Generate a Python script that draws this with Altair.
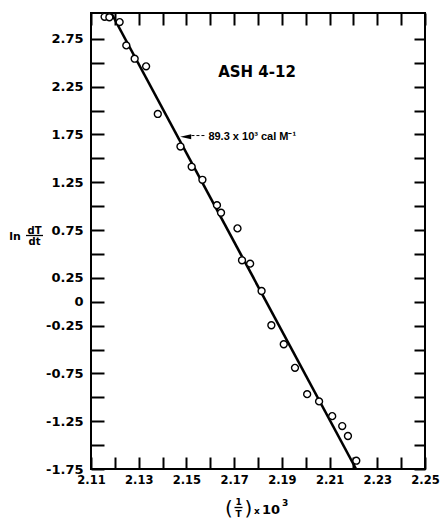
import altair as alt
import pandas as pd

# ---- data ----
inv_T = [2.1157, 2.1177, 2.1220, 2.1248, 2.1283, 2.1331, 2.1380, 2.1475, 2.1522,
         2.1567, 2.1628, 2.1645, 2.1714, 2.1733, 2.1767, 2.1815, 2.1856, 2.1908,
         2.1955, 2.2006, 2.2056, 2.2111, 2.2153, 2.2177, 2.2212]
ln_rate = [2.980, 2.975, 2.925, 2.681, 2.542, 2.462, 1.964, 1.623, 1.411,
           1.275, 1.010, 0.931, 0.767, 0.433, 0.398, 0.112, -0.246, -0.445,
           -0.692, -0.967, -1.043, -1.197, -1.301, -1.405, -1.663]
fit_x = [2.1185, 2.2211]
fit_y = [3.02, -1.75]
x_ticks = [2.11, 2.12, 2.13, 2.14, 2.15, 2.16, 2.17, 2.18, 2.19, 2.20, 2.21,
           2.22, 2.23, 2.24, 2.25]
y_ticks = [-1.75, -1.5, -1.25, -1.0, -0.75, -0.5, -0.25, 0, 0.25, 0.5, 0.75,
           1.0, 1.25, 1.5, 1.75, 2.0, 2.25, 2.5, 2.75]
sample_label = ["ASH 4-12"]
sample_x = [2.1796]
sample_y = [2.406]
energy_label = ["89.3 x 10\u00b3 cal M\u207b\u00b9"]
energy_x = [2.1592]
energy_y = [1.726]
leader_x = [2.1521, 2.1584]
leader_y = [1.738]
arrow_x = [2.1497]
arrow_y = [1.726]

W, H = 334, 456
FONT = "DejaVu Sans"

xs = alt.Scale(domain=[2.11, 2.25], nice=False, zero=False)
ys = alt.Scale(domain=[-1.75, 3.02], nice=False, zero=False)

pts = pd.DataFrame({"x": inv_T, "y": ln_rate})
fit = pd.DataFrame({"x": [fit_x[0]], "x2": [fit_x[1]], "y": [fit_y[0]], "y2": [fit_y[1]]})
one = pd.DataFrame({"k": [0]})

x_label_expr = "round(datum.value*100) % 2 == 1 ? format(datum.value, '.2f') : ''"
y_label_expr = ("datum.value == 0 ? '0' : (abs(round(datum.value*4)) % 2 == 1 ? "
                "(datum.value < 0 ? '-' : '') + format(abs(datum.value), '.2f') : '')")

ax_bottom = alt.Axis(orient="bottom", values=x_ticks, offset=-12, tickSize=12, tickWidth=2,
                     tickColor="black", domain=False, grid=False, labelExpr=x_label_expr,
                     labelFont=FONT, labelFontWeight="bold", labelFontSize=11.5,
                     labelColor="black", labelPadding=5, labelFlush=False,
                     labelOverlap=False, title=None)
ax_left = alt.Axis(orient="left", values=y_ticks, offset=-13, tickSize=13, tickWidth=2,
                   tickColor="black", domain=False, grid=False, labelExpr=y_label_expr,
                   labelFont=FONT, labelFontWeight="bold", labelFontSize=13,
                   labelColor="black", labelPadding=8, labelFlush=False,
                   labelOverlap=False, title=None)
ax_top = alt.Axis(orient="top", values=x_ticks, offset=-12, tickSize=12, tickWidth=2,
                  tickColor="black", domain=False, grid=False, labels=False, title=None)
ax_right = alt.Axis(orient="right", values=y_ticks, offset=-11, tickSize=11, tickWidth=2,
                    tickColor="black", domain=False, grid=False, labels=False, title=None)

fit_line = alt.Chart(fit).mark_rule(color="black", strokeWidth=2.6).encode(
    x=alt.X("x:Q", scale=xs, axis=ax_bottom),
    x2="x2:Q",
    y=alt.Y("y:Q", scale=ys, axis=ax_left),
    y2="y2:Q",
)

points = alt.Chart(pts).mark_point(shape="circle", filled=True, fill="white", stroke="black",
                                   strokeWidth=1.4, size=48, opacity=1).encode(
    x=alt.X("x:Q", scale=xs, axis=ax_top),
    y=alt.Y("y:Q", scale=ys, axis=ax_right),
)

def data_text(xv, yv, label, size, align, font):
    df = pd.DataFrame({"x": xv, "y": yv, "t": label})
    return alt.Chart(df).mark_text(font=font, fontWeight="bold", fontSize=size, align=align,
                                   baseline="middle", color="black").encode(
        x=alt.X("x:Q", scale=xs, axis=None),
        y=alt.Y("y:Q", scale=ys, axis=None),
        text="t:N",
    )

sample_txt = data_text(sample_x, sample_y, sample_label, 15, "center", FONT)
energy_txt = data_text(energy_x, energy_y, energy_label, 11, "left", "Liberation Sans")

leader = alt.Chart(pd.DataFrame({"x": [leader_x[0]], "x2": [leader_x[1]], "y": leader_y})).mark_rule(
    color="black", strokeWidth=1, strokeDash=[3, 2]).encode(
    x=alt.X("x:Q", scale=xs, axis=None), x2="x2:Q",
    y=alt.Y("y:Q", scale=ys, axis=None),
)
arrow = alt.Chart(pd.DataFrame({"x": arrow_x, "y": arrow_y})).mark_point(
    shape="M-1,0L1,-0.45L1,0.45Z", filled=True, color="black", size=121, opacity=1).encode(
    x=alt.X("x:Q", scale=xs, axis=None),
    y=alt.Y("y:Q", scale=ys, axis=None),
)

def title_text(txt, px, py, size, weight="bold", align="center"):
    return alt.Chart(one).mark_text(text=txt, font=FONT, fontWeight=weight, fontSize=size,
                                    align=align, baseline="middle", color="black").encode(
        x=alt.value(px), y=alt.value(py))

def title_bar(px1, px2, py):
    return alt.Chart(one).mark_rule(color="black", strokeWidth=1.3).encode(
        x=alt.value(px1), x2=alt.value(px2), y=alt.value(py))

y_title = [
    title_text("ln", -76, 224, 11),
    title_text("dT", -56.5, 217.5, 10),
    title_bar(-65, -48, 222.5),
    title_text("dt", -56.5, 228.5, 10),
]
x_title = [
    title_text("(", 138, 496, 20, weight="normal"),
    title_text("1", 147.5, 489, 9),
    title_bar(143.5, 151.5, 494.5),
    title_text("T", 147.5, 500.5, 9),
    title_text(")", 157.5, 496, 20, weight="normal"),
    title_text("x", 163, 498, 9, align="left"),
    title_text("10", 171, 497, 13, align="left"),
    title_text("3", 191, 490, 9, align="left"),
]

chart = alt.layer(
    fit_line, points, sample_txt, energy_txt, leader, arrow, *y_title, *x_title
).resolve_axis(x="independent", y="independent").properties(
    width=W, height=H,
    padding={"left": 83, "top": 5, "right": 15, "bottom": 50},
    autosize=alt.AutoSizeParams(type="none"),
    background="white",
).configure_view(stroke="black", strokeWidth=2)

chart.save("out.html", embed_options={"renderer": "svg", "actions": False})
